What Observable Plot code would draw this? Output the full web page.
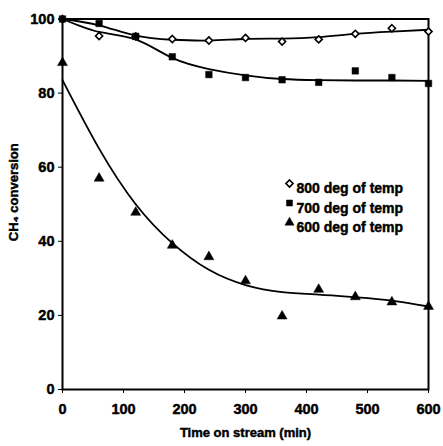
<!DOCTYPE html>
<html>
<head>
<meta charset="utf-8">
<script src="https://cdn.jsdelivr.net/npm/d3@7"></script>
<script src="https://cdn.jsdelivr.net/npm/@observablehq/plot@0.6"></script>
<style>
  html, body { margin: 0; padding: 0; background: #fff; }
  #chart svg { display: block; }
  #chart svg text { stroke: black; stroke-width: 0.45px; paint-order: stroke; }
</style>
</head>
<body>
<div id="chart"></div>
<script>
// ---- data ----
const series = ["800 deg of temp", "700 deg of temp", "600 deg of temp"];
const symbols = ["diamond2", "square", "triangle"];
const times = [0, 60, 120, 180, 240, 300, 360, 420, 480, 540, 600];
const obs800 = [100, 95.4, 95.3, 94.6, 94.2, 94.9, 93.9, 94.5, 96.0, 97.5, 96.6];
const obs700 = [100, 98.8, 95.3, 89.8, 85.0, 84.2, 83.6, 82.9, 86.0, 84.2, 82.6];
const obs600 = [88.2, 57.0, 47.8, 38.9, 35.8, 29.3, 19.8, 27.0, 25.0, 23.6, 22.4];
const fit800 = [100, 98.3, 95.5, 94.4, 94.2, 94.6, 94.7, 95.1, 96.0, 96.6, 97.1];
const fit700 = [100, 96.5, 94.5, 89.5, 86.5, 84.8, 83.8, 83.5, 83.4, 83.4, 83.3];
const fit600 = [83.5, 65.0, 50.0, 39.5, 32.3, 28.2, 26.3, 25.6, 24.9, 24.0, 22.4];
const xTicks = [0, 100, 200, 300, 400, 500, 600];
const yTicks = [0, 20, 40, 60, 80, 100];

const obs = [obs800, obs700, obs600];
const fits = [fit800, fit700, fit600];
const points = series.flatMap((s, i) => times.map((t, j) => ({series: s, sym: symbols[i], t, v: obs[i][j]})));
const curves = series.flatMap((s, i) => times.map((t, j) => ({series: s, t, v: fits[i][j]})));
const legend = series.map((s, i) => ({series: s, sym: symbols[i], i}));

const W = 443, H = 446;
const font = "'Liberation Sans', Arial, sans-serif";
const isOpen = s => s === "diamond2";

const legendMarks = legend.flatMap(d => [
  Plot.dot([d], {
    frameAnchor: "top-left", dx: 227, dy: 164.5 + d.i * 19.5,
    symbol: "sym", r: isOpen(d.sym) ? 3.2 : 3.4,
    fill: isOpen(d.sym) ? "white" : "black",
    stroke: "black", strokeWidth: isOpen(d.sym) ? 1.6 : 0.5
  }),
  Plot.text([d], {
    frameAnchor: "top-left", dx: 234, dy: 164.5 + d.i * 19.5,
    text: "series", textAnchor: "start", fontSize: 14, fontWeight: "bold", fill: "black"
  })
]);

const chart = Plot.plot({
  width: W,
  height: H,
  marginLeft: 62,
  marginRight: 15,
  marginTop: 18.5,
  marginBottom: 57,
  style: {fontFamily: font, background: "white", color: "black"},
  x: {domain: [0, 600]},
  y: {domain: [0, 100]},
  symbol: {domain: symbols, range: symbols},
  marks: [
    Plot.frame({stroke: "black", strokeWidth: 2}),
    Plot.axisX({
      ticks: xTicks, tickSize: 4, tickPadding: 10, fontSize: 14.5, fontWeight: "bold",
      label: "Time on stream (min)", labelAnchor: "center", labelArrow: "none", labelOffset: 47
    }),
    Plot.axisY({
      ticks: yTicks, tickSize: 4, tickPadding: 4, fontSize: 14.5, fontWeight: "bold",
      label: "CH₄ conversion", labelAnchor: "center", labelArrow: "none", labelOffset: 54
    }),
    Plot.line(curves, {x: "t", y: "v", z: "series", curve: "natural", stroke: "black", strokeWidth: 1.8}),
    Plot.dot(points.filter(d => isOpen(d.sym)), {x: "t", y: "v", symbol: "sym", r: 3.2, fill: "white", stroke: "black", strokeWidth: 1.6}),
    Plot.dot(points.filter(d => !isOpen(d.sym)), {x: "t", y: "v", symbol: "sym", r: 3.7, fill: "black", stroke: "black", strokeWidth: 0.5}),
    ...legendMarks
  ]
});

chart.querySelectorAll("g[aria-label='x-axis label'] text, g[aria-label='y-axis label'] text").forEach(t => {
  t.setAttribute("font-size", 13);
  t.setAttribute("font-weight", "bold");
});
const yl = chart.querySelector("g[aria-label='y-axis label']");
if (yl) yl.setAttribute("transform", "translate(0,-12) " + (yl.getAttribute("transform") || ""));
document.getElementById("chart").appendChild(chart);
</script>
</body>
</html>
